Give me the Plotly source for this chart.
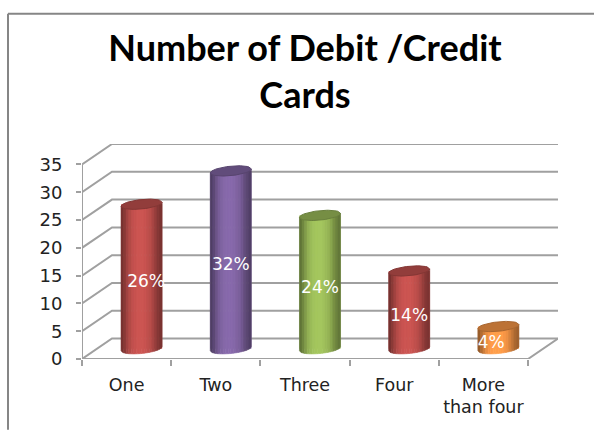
import math
import plotly.graph_objects as go

# Chart content
categories = ["One", "Two", "Three", "Four", "More<br>than four"]
values = [26, 32, 24, 14, 4]
colors = ["#c0504d", "#8064a2", "#9bbb59", "#c0504d", "#f79646"]
y_ticks = [0, 5, 10, 15, 20, 25, 30, 35]

# Oblique projection of the depth axis, in axis units
DEPTH_X = 0.336
DEPTH_Y = 3.68
N_CAT = len(categories)
Y_MAX = y_ticks[-1]

# Cylinder proportions, in axis units
RADIUS = 0.23
CAP_B = 0.85
CAP_TILT = 0.36
SHADE = [0.62, 0.72, 0.84, 0.94, 1.0, 1.04, 1.06, 1.06, 1.06, 1.04, 1.0, 0.96, 0.88, 0.78, 0.70, 0.64]
LABEL_SHIFT = [0.05, 0, 0, 0, -0.08]

GRID = "#a0a0a0"
FRAME = "#868686"


def shade(hex_color, k):
    rgb = [int(hex_color[i:i + 2], 16) for i in (1, 3, 5)]
    return "rgb({},{},{})".format(*[min(255, round(c * k)) for c in rgb])


def arc(cx, cy, u_from, u_to, steps=6, front=True):
    """Points along one half of a slightly tilted elliptical end."""
    sign = -1 if front else 1
    xs, ys = [], []
    for i in range(steps + 1):
        u = u_from + (u_to - u_from) * i / steps
        xs.append(cx + RADIUS * u)
        ys.append(cy + CAP_TILT * u + sign * CAP_B * math.sqrt(max(0.0, 1 - u * u)))
    return xs, ys


fig = go.Figure()

# Flat body of each column, with the rounded shading laid over it below
fig.add_trace(go.Bar(
    x=[i + 0.5 + DEPTH_X / 2 for i in range(N_CAT)],
    y=values,
    base=[DEPTH_Y / 2] * N_CAT,
    width=RADIUS * 2,
    marker=dict(color=colors, line=dict(width=0)),
    hoverinfo="skip",
    showlegend=False,
))

# Walls and floor of the 3D frame
grid_x, grid_y = [], []
for t in y_ticks:
    grid_x += [0, DEPTH_X, N_CAT + DEPTH_X, None]
    grid_y += [t, t + DEPTH_Y, t + DEPTH_Y, None]
grid_x += [0, N_CAT, N_CAT + DEPTH_X, None, 0, 0]
grid_y += [0, 0, DEPTH_Y, None, 0, Y_MAX]
fig.add_trace(go.Scatter(
    x=grid_x, y=grid_y, mode="lines",
    line=dict(color=GRID, width=2),
    hoverinfo="skip", showlegend=False, cliponaxis=False,
))

# Cylinders: vertical strips of varying brightness plus a darker top cap
n = len(SHADE)
for i, (v, c) in enumerate(zip(values, colors)):
    cx = i + 0.5 + DEPTH_X / 2
    y0 = DEPTH_Y / 2
    y1 = y0 + v
    for j, k in enumerate(SHADE):
        u1 = -1 + 2 * j / n
        u2 = -1 + 2 * (j + 1) / n
        bx, by = arc(cx, y0, u1, u2)
        tx, ty = arc(cx, y1, u2, u1)
        col = shade(c, k)
        fig.add_trace(go.Scatter(
            x=bx + tx + bx[:1], y=by + ty + by[:1],
            mode="lines", fill="toself", fillcolor=col,
            line=dict(color=col, width=0.6),
            hoverinfo="skip", showlegend=False, cliponaxis=False,
        ))
    fx, fy = arc(cx, y1, -1, 1, steps=30, front=True)
    rx, ry = arc(cx, y1, 1, -1, steps=30, front=False)
    fig.add_trace(go.Scatter(
        x=fx + rx, y=fy + ry, mode="lines", fill="toself",
        fillcolor=shade(c, 0.76),
        line=dict(color=shade(c, 0.68), width=1),
        hoverinfo="skip", showlegend=False, cliponaxis=False,
    ))

# Percentage labels on the column fronts
fig.add_trace(go.Scatter(
    x=[i + 0.5 + DEPTH_X / 2 + LABEL_SHIFT[i] for i in range(N_CAT)],
    y=[DEPTH_Y / 2 + v / 2 - 1.15 for v in values],
    mode="text",
    text=[f"{v}%" for v in values],
    textposition="middle center",
    textfont=dict(family="DejaVu Sans", size=17, color="white"),
    hoverinfo="skip", showlegend=False, cliponaxis=False,
))

PLOT_W = 476
PLOT_H = 215.5
FRAME_X = -74 / PLOT_W
FRAME_TOP = 346 / PLOT_H

fig.update_layout(
    width=594, height=430,
    margin=dict(l=82, r=36, t=143.5, b=71),
    autosize=False,
    paper_bgcolor="white", plot_bgcolor="white",
    showlegend=False,
    title=dict(
        text="Number of Debit /Credit<br>Cards",
        x=305 / 594, xanchor="center",
        y=1 - 61 / 430, yanchor="top", yref="container",
        font=dict(family="Lato", size=36, color="black", weight="bold"),
    ),
    xaxis=dict(
        range=[0, N_CAT + DEPTH_X],
        tickmode="array",
        tickvals=[i + 0.5 for i in range(N_CAT)],
        ticktext=categories,
        ticks="", showgrid=False, zeroline=False, showline=False,
        ticklabelstandoff=13,
        tickfont=dict(family="DejaVu Sans", size=17.5, color="#222222"),
        minor=dict(
            tickmode="array", tickvals=list(range(N_CAT + 1)),
            ticks="outside", ticklen=6, tickwidth=2, tickcolor=GRID,
            showgrid=False,
        ),
    ),
    yaxis=dict(
        range=[0, Y_MAX + DEPTH_Y],
        tickmode="array", tickvals=y_ticks,
        ticks="outside", ticklen=5, tickwidth=2, tickcolor=GRID,
        showgrid=False, zeroline=False, showline=False,
        ticklabelstandoff=10,
        tickfont=dict(family="DejaVu Sans", size=18, color="#222222"),
    ),
    shapes=[
        # Outer frame, open on the right and at the bottom
        dict(type="line", xref="paper", yref="paper",
             x0=FRAME_X, x1=FRAME_X, y0=-71 / PLOT_H, y1=FRAME_TOP,
             line=dict(color=FRAME, width=2)),
        dict(type="line", xref="paper", yref="paper",
             x0=FRAME_X, x1=512 / PLOT_W, y0=FRAME_TOP, y1=FRAME_TOP,
             line=dict(color=FRAME, width=2)),
    ],
)

fig.write_html("out.html")
